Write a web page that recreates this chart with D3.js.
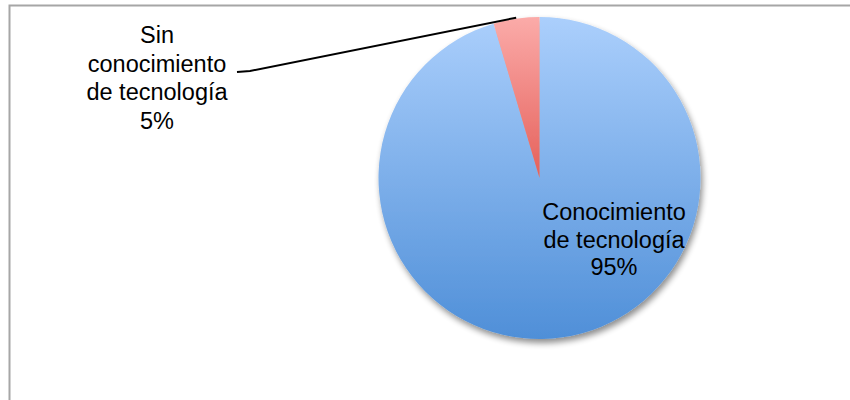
<!DOCTYPE html>
<html>
<head>
<meta charset="utf-8">
<script src="https://cdn.jsdelivr.net/npm/d3@7"></script>
<style>
  body { margin: 0; background: #fff; }
  text { font-family: "Liberation Sans", Arial, sans-serif; fill: #000; }
</style>
</head>
<body>
<div id="chart"></div>
<script>
// pie data
const categories = ["Conocimiento de tecnología", "Sin conocimiento de tecnología"];
const values = [95.4, 4.6];
const labelLines = [
    ["Conocimiento", "de tecnología"],
    ["Sin", "conocimiento", "de tecnología"]
];

const svgWidth = 850;
const svgHeight = 400;

const cx = 539.5;
const cy = 178;
const radius = 161;

const svg = d3.select("#chart")
    .append("svg")
    .attr("width", svgWidth)
    .attr("height", svgHeight);

const defs = svg.append("defs");

// gradients in the slices' own space (pie centre = 0,0)
const blueGrad = defs.append("linearGradient")
    .attr("id", "blueGrad")
    .attr("gradientUnits", "userSpaceOnUse")
    .attr("x1", 0).attr("y1", -radius)
    .attr("x2", 0).attr("y2", radius);
blueGrad.append("stop").attr("offset", "0%").attr("stop-color", "#abcffc");
blueGrad.append("stop").attr("offset", "100%").attr("stop-color", "#4f8fd8");

const redGrad = defs.append("linearGradient")
    .attr("id", "redGrad")
    .attr("gradientUnits", "userSpaceOnUse")
    .attr("x1", 0).attr("y1", -radius)
    .attr("x2", 0).attr("y2", 0);
redGrad.append("stop").attr("offset", "0%").attr("stop-color", "#fbaba9");
redGrad.append("stop").attr("offset", "100%").attr("stop-color", "#e5605a");

const shadow = defs.append("filter")
    .attr("id", "shadow")
    .attr("x", "-20%").attr("y", "-20%")
    .attr("width", "140%").attr("height", "140%");
shadow.append("feGaussianBlur").attr("in", "SourceAlpha").attr("stdDeviation", 3);
shadow.append("feOffset").attr("dx", 2).attr("dy", 4).attr("result", "off");
shadow.append("feComponentTransfer").append("feFuncA").attr("type", "linear").attr("slope", 0.45);
const merge = shadow.append("feMerge");
merge.append("feMergeNode");
merge.append("feMergeNode").attr("in", "SourceGraphic");

// chart frame (runs off the right and bottom)
svg.append("rect")
    .attr("x", 9.5)
    .attr("y", 5.5)
    .attr("width", 900)
    .attr("height", 450)
    .attr("fill", "none")
    .attr("stroke", "#a6a6a6")
    .attr("stroke-width", 2);

const pie = d3.pie().sort(null)
    .startAngle(0).endAngle(2 * Math.PI);
const arcs = pie(values);
const arc = d3.arc().innerRadius(0).outerRadius(radius);

const pieGroup = svg.append("g")
    .attr("transform", `translate(${cx}, ${cy})`)
    .attr("filter", "url(#shadow)");

pieGroup.selectAll("path")
    .data(arcs)
    .enter()
    .append("path")
    .attr("d", arc)
    .attr("fill", (d, i) => i === 0 ? "url(#blueGrad)" : "url(#redGrad)");

const total = d3.sum(values);
const pct = v => Math.round(v / total * 100) + "%";

// label inside the big slice
const bigLabel = svg.append("text")
    .attr("text-anchor", "middle")
    .style("font-size", "23.5px");
labelLines[0].concat([pct(values[0])]).forEach((t, i) => {
    bigLabel.append("tspan")
        .attr("x", 614)
        .attr("y", 220 + i * 27.5)
        .text(t);
});

// label for the small slice, outside with a leader line
const smallLabel = svg.append("text")
    .attr("text-anchor", "middle")
    .style("font-size", "23.5px");
labelLines[1].concat([pct(values[1])]).forEach((t, i) => {
    smallLabel.append("tspan")
        .attr("x", 157)
        .attr("y", 43 + i * 28.5)
        .text(t);
});

const smallMid = (arcs[1].startAngle + arcs[1].endAngle) / 2;
const edge = [cx + Math.sin(smallMid) * (radius + 1), cy - Math.cos(smallMid) * (radius + 1)];
svg.append("polyline")
    .attr("points", `237,72 250,71 ${edge[0]},${edge[1]}`)
    .attr("fill", "none")
    .attr("stroke", "#000")
    .attr("stroke-width", 2);
</script>
</body>
</html>
